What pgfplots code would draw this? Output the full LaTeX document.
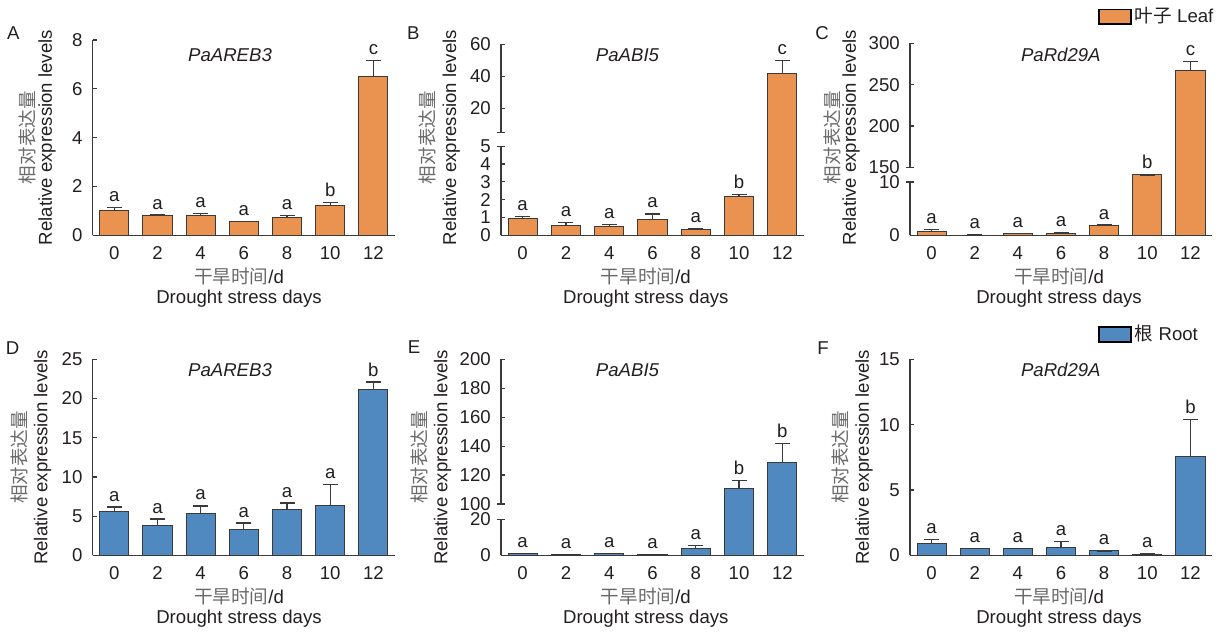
\documentclass[border=0pt]{standalone}
\usepackage{fontspec}
\setmainfont{Liberation Sans}
\newfontfamily\cjk{Noto Sans CJK SC}
\usepackage{pgfplots}
\usepackage{pgfplotstable}
\pgfplotsset{compat=1.18}

\definecolor{leaf}{HTML}{EA9350}
\definecolor{root}{HTML}{4F89C0}
\definecolor{ink}{HTML}{231F20}
\definecolor{edge}{HTML}{3A3A3A}
\definecolor{cjkgray}{HTML}{6A6A6A}
\newcommand\fs{\fontsize{9.3}{11}\selectfont}

% x = day, m = mean, u = top of error bar, l = letter
\pgfplotstableread{
x  m     u     l
0  1.02  1.13  a
2  0.80  0.83  a
4  0.80  0.88  a
6  0.55  0.58  a
8  0.72  0.80  a
10 1.22  1.34  b
12 6.50  7.17  c
}\tabA
\pgfplotstableread{
x  m     u     l
0  0.97  1.05  a
2  0.55  0.72  a
4  0.49  0.60  a
6  0.91  1.20  a
8  0.31  0.36  a
10 2.19  2.30  b
12 41.5  49.8  c
}\tabB
\pgfplotstableread{
x  m     u     l
0  0.80  1.05  a
2  0.05  0.08  a
4  0.25  0.32  a
6  0.43  0.60  a
8  1.75  1.93  a
10 77    77    b
12 267   278   c
}\tabC
\pgfplotstableread{
x  m     u     l
0  5.65  6.16  a
2  3.74  4.63  a
4  5.31  6.29  a
6  3.35  4.12  a
8  5.90  6.67  a
10 6.33  9.00  a
12 21.1  22.1  b
}\tabD
\pgfplotstableread{
x  m     u     l
0  0.8   1.0   a
2  0.4   0.5   a
4  0.8   1.0   a
6  0.4   0.5   a
8  3.7   5.6   a
10 111   116   b
12 129   141.6 b
}\tabE
\pgfplotstableread{
x  m     u     l
0  0.92  1.22  a
2  0.54  0.54  a
4  0.54  0.54  a
6  0.61  1.04  a
8  0.33  0.33  a
10 0.08  0.12  a
12 7.55  10.4  b
}\tabF

\pgfplotsset{
  panel/.style={
    scale only axis, anchor=south west,
    xmin=-1, xmax=13, ymin=0, clip=false,
    axis x line*=bottom, axis y line*=left,
    axis line style={-, line width=0.6pt, draw=edge},
    xtick={0,2,4,6,8,10,12}, xticklabels={0,2,4,6,8,10,12},
    xtick style={draw=none},
    ytick style={line width=0.6pt, draw=edge},
    tick align=inside, major tick length=2pt,
    ticklabel style={font=\fs, text=ink},
    xticklabel style={yshift=-2.2pt},
    yticklabel style={xshift=-1.6pt},
  },
  broken/.style={y axis line style={draw=none}},
}

\newcommand\bars[2]{%
  \addplot[ycomb, draw=edge, line width=0.6pt, mark=none, forget plot] table[x=x,y=u]{#1};
  \addplot[ybar, bar width=1.35, fill=#2, draw=edge, line width=0.5pt] table[x=x,y=m]{#1};
}
\newcommand\caps[1]{%
  \addplot[only marks, mark=-, mark size=3.75pt, mark options={draw=edge, line width=0.6pt}, forget plot] table[x=x,y=u]{#1};
  \addplot[draw=none, mark=none, nodes near coords, point meta=explicit symbolic,
    nodes near coords style={anchor=base, inner sep=0pt, yshift=3pt, font=\fs, text=ink}, forget plot]
    table[x=x,y=u,meta=l]{#1};
}

\begin{document}
\begin{tikzpicture}
\useasboundingbox (0,0) rectangle (614.5pt,316.5pt);

% A
\begin{axis}[panel, at={(46.35pt,198.85pt)}, width=151.15pt, height=97.65pt,
  ymax=8, ytick={0,2,4,6,8}, yticklabels={0,2,4,6,8}]
\bars{\tabA}{leaf}
\caps{\tabA}
\end{axis}

% B
\begin{axis}[panel, broken, at={(250.5pt,198.85pt)}, width=151.5pt, height=95.5pt,
  y coord trafo/.code={\pgfmathparse{(#1<=5) ? 17.8*#1 : 103+1.6*(#1-5)}},
  y coord inv trafo/.code={\pgfmathparse{(#1<=89) ? #1/17.8 : 5+(#1-103)/1.6}},
  ymax=60, ytick={0,1,2,3,4,5,20,40,60}, yticklabels={0,1,2,3,4,5,20,40,60}]
\bars{\tabB}{leaf}
\caps{\tabB}
\draw[edge, line width=0.6pt] (axis cs:-1,0) -- (axis cs:-1,5)
  ([xshift=-2pt]axis cs:-1,5) -- ([xshift=2pt]axis cs:-1,5);
\draw[edge, line width=0.6pt] (axis cs:-1,5.0001) -- (axis cs:-1,60)
  ([xshift=-2pt]axis cs:-1,5.0001) -- ([xshift=2pt]axis cs:-1,5.0001);
\end{axis}

% C
\begin{axis}[panel, broken, at={(455pt,198.85pt)}, width=151pt, height=96pt,
  y coord trafo/.code={\pgfmathparse{(#1<=10) ? 5.33*#1 : ((#1<150) ? 53.3+0.105*(#1-10) : 68+0.8267*(#1-150))}},
  y coord inv trafo/.code={\pgfmathparse{(#1<=53.3) ? #1/5.33 : ((#1<68) ? 10+(#1-53.3)/0.105 : 150+(#1-68)/0.8267)}},
  ymax=300, ytick={0,10,150,200,250,300}, yticklabels={0,10,150,200,250,300},
  legend image code/.code={\draw[fill=leaf, draw=black, line width=0.7pt] (0pt,-3.7pt) rectangle (16pt,3.7pt);},
  legend style={at={(0.6225,1.139)}, anchor=west, draw=none, fill=none, font=\fs, text=ink,
    inner sep=0pt, nodes={inner sep=1.5pt}}]
\bars{\tabC}{leaf}
\addlegendentry{{\cjk 叶子} Leaf}
\caps{\tabC}
\draw[edge, line width=0.6pt] (axis cs:-1,0) -- (axis cs:-1,10)
  ([xshift=-2pt]axis cs:-1,10) -- ([xshift=2pt]axis cs:-1,10);
\draw[edge, line width=0.6pt] (axis cs:-1,150) -- (axis cs:-1,300)
  ([xshift=-2pt]axis cs:-1,150) -- ([xshift=2pt]axis cs:-1,150);
\end{axis}

% D
\begin{axis}[panel, at={(46.35pt,38.85pt)}, width=151.15pt, height=98pt,
  ymax=25, ytick={0,5,10,15,20,25}, yticklabels={0,5,10,15,20,25}]
\bars{\tabD}{root}
\caps{\tabD}
\end{axis}

% E
\begin{axis}[panel, broken, at={(250.5pt,38.85pt)}, width=151.5pt, height=98pt,
  y coord trafo/.code={\pgfmathparse{(#1<=20) ? 1.8*#1 : ((#1<100) ? 36+0.19125*(#1-20) : 51.3+1.447*(#1-100))}},
  y coord inv trafo/.code={\pgfmathparse{(#1<=36) ? #1/1.8 : ((#1<51.3) ? 20+(#1-36)/0.19125 : 100+(#1-51.3)/1.447)}},
  ymax=200, ytick={0,20,100,120,140,160,180,200}, yticklabels={0,20,100,120,140,160,180,200}]
\bars{\tabE}{root}
\caps{\tabE}
\draw[edge, line width=0.6pt] (axis cs:-1,0) -- (axis cs:-1,20)
  ([xshift=-2pt]axis cs:-1,20) -- ([xshift=2pt]axis cs:-1,20);
\draw[edge, line width=0.6pt] (axis cs:-1,100) -- (axis cs:-1,200)
  ([xshift=-2pt]axis cs:-1,100) -- ([xshift=2pt]axis cs:-1,100);
\end{axis}

% F
\begin{axis}[panel, at={(455pt,38.85pt)}, width=151pt, height=98pt,
  ymax=15, ytick={0,5,10,15}, yticklabels={0,5,10,15},
  legend image code/.code={\draw[fill=root, draw=black, line width=0.7pt] (0pt,-3.7pt) rectangle (16pt,3.7pt);},
  legend style={at={(0.6225,1.1265)}, anchor=west, draw=none, fill=none, font=\fs, text=ink,
    inner sep=0pt, nodes={inner sep=1.5pt}}]
\bars{\tabF}{root}
\addlegendentry{{\cjk 根} Root}
\caps{\tabF}
\end{axis}

% texts, in image pixel coordinates
\begin{scope}[x=0.5pt, y=-0.5pt, shift={(0pt,316.5pt)}, font=\fs, text=ink]
  \foreach \lx/\ly/\lt in {13.3/33.3/A, 413.3/33.3/B, 822/33/C, 12.5/348.3/D, 414/347.5/E, 823/348/F}
    \node at (\lx,\ly) {\lt};
  \foreach \tx/\ty/\tt in {230/55/PaAREB3, 627.5/55/PaABI5, 1060.8/55/PaRd29A,
                           230/370/PaAREB3, 627.5/370/PaABI5, 1060.8/370/PaRd29A}
    \node at (\tx,\ty) {\itshape\tt};
  \foreach \ex/\cx/\cy in {47/27.3/137.6, 451.3/427.5/137.6, 851/832.5/137.6,
                           42.5/19.2/457.3, 442.5/419.2/457.3, 864/840/457.3} {
    \node[rotate=90] at (\ex,\cy) {Relative expression levels};
    \node[rotate=90, text=cjkgray] at (\cx,\cy) {\cjk 相对表达量};
  }
  \foreach \dx/\dy in {239/276, 645.8/276, 1059/276, 239/596, 645.8/596, 1059/596} {
    \node at (\dx,\dy) {{\cjk\color{cjkgray}干旱时间}/d};
    \node at (\dx,\dy+22.3) {Drought stress days};
  }
\end{scope}
\end{tikzpicture}
\end{document}
